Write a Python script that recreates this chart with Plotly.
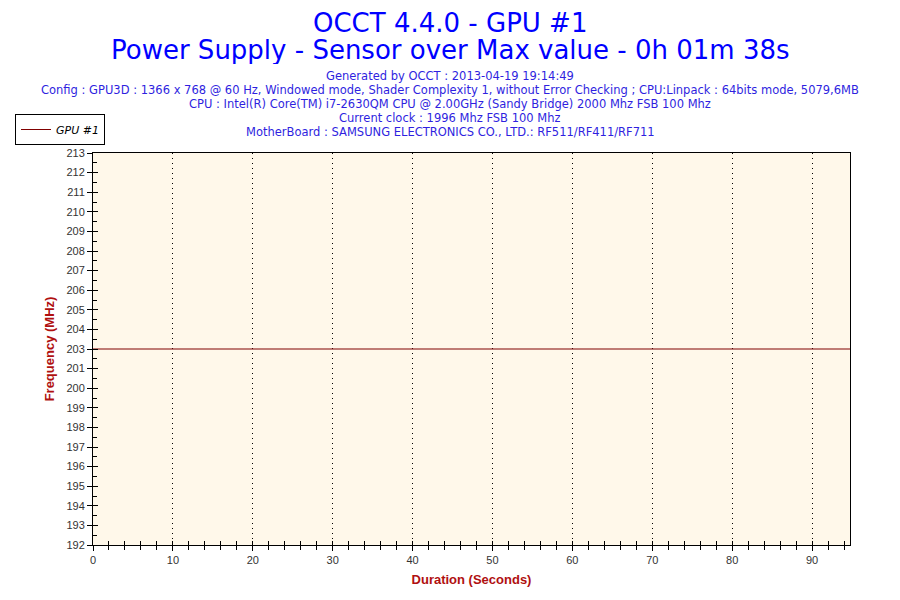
import plotly.graph_objects as go

# data
durations = [0, 98]
frequency = [202.5, 202.5]

y_min, y_max = 192, 213
y_tick_labels = ["192", "193", "194", "195", "196", "197", "198", "199", "200", "201",
                 "203", "204", "205", "206", "207", "208", "209", "210", "211", "212", "213"]
x_max = 94.75

title_lines = [
    "OCCT 4.4.0 - GPU #1",
    "Power Supply - Sensor over Max value - 0h 01m 38s",
]
info_lines = [
    "Generated by OCCT : 2013-04-19 19:14:49",
    "Config : GPU3D : 1366 x 768 @ 60 Hz, Windowed mode, Shader Complexity 1, without Error Checking ; CPU:Linpack : 64bits mode, 5079,6MB",
    "CPU : Intel(R) Core(TM) i7-2630QM CPU @ 2.00GHz (Sandy Bridge) 2000 Mhz FSB 100 Mhz",
    "Current clock : 1996 Mhz FSB 100 Mhz",
    "MotherBoard : SAMSUNG ELECTRONICS CO., LTD.: RF511/RF411/RF711",
]

# 21 labels spread evenly over the range (OCCT rounds them)
n = len(y_tick_labels) - 1
y_tick_vals = [y_min + i * (y_max - y_min) / n for i in range(n + 1)]
y_minor_vals = [(a + b) / 2 for a, b in zip(y_tick_vals[:-1], y_tick_vals[1:])]

# plot box in page pixels: 93..850 x 153..545
def px_x(X):
    return (X - 93) / 757

def px_y(Y):
    return (545 - Y) / 392

tick_font = dict(family="Liberation Sans Narrow, Arial Narrow, Liberation Sans, Arial", size=11, color="#333333")
axis_title_font = dict(family="Liberation Sans, Arial", size=13, color="#B01010")

fig = go.Figure()
fig.add_trace(go.Scatter(x=durations, y=frequency, mode="lines", name="GPU #1",
                         line=dict(color="#800000", width=1)))
# invisible trace to activate the overlay axes used for inward ticks
fig.add_trace(go.Scatter(x=durations, y=frequency, mode="lines", xaxis="x2", yaxis="y2",
                         line=dict(width=0), showlegend=False, hoverinfo="skip"))

fig.update_layout(
    width=900, height=600,
    margin=dict(l=85, r=58, t=145, b=63, autoexpand=False),
    paper_bgcolor="white",
    plot_bgcolor="#FFF8EA",
    font=dict(family="DejaVu Sans, Verdana", color="#000000"),
    showlegend=True,
    legend=dict(x=px_x(15), y=px_y(114), xanchor="left", yanchor="top",
                bgcolor="white", bordercolor="black", borderwidth=1,
                font=dict(family="DejaVu Sans, Verdana", size=11, style="italic"),
                itemwidth=30, tracegroupgap=0),
    xaxis=dict(range=[0, x_max], dtick=10, tick0=0, automargin=False,
               showline=True, linecolor="black", linewidth=1, mirror=True,
               ticks="outside", ticklen=5, tickcolor="black",
               minor=dict(dtick=2, ticks="outside", ticklen=4, tickcolor="black"),
               showgrid=True, gridcolor="black", griddash="1px,4px", gridwidth=1,
               zeroline=False, tickfont=tick_font,
               title=dict(text="<b>Duration (Seconds)</b>", font=axis_title_font, standoff=9)),
    yaxis=dict(range=[y_min, y_max], tickmode="array", tickvals=y_tick_vals, ticktext=y_tick_labels,
               automargin=False,
               showline=True, linecolor="black", linewidth=1, mirror=True,
               ticks="outside", ticklen=5, tickcolor="black",
               minor=dict(tickmode="array", tickvals=y_minor_vals, ticks="", ticklen=0),
               showgrid=False, zeroline=False, tickfont=tick_font,
               title=dict(text="<b>Frequency (MHz)</b>", font=axis_title_font, standoff=8)),
    xaxis2=dict(overlaying="x", anchor="y", range=[0, x_max], dtick=10, tick0=0,
                ticks="inside", ticklen=4, tickcolor="black", showticklabels=False,
                minor=dict(dtick=2, ticks="inside", ticklen=4, tickcolor="black"),
                showgrid=False, zeroline=False, showline=False, automargin=False),
    yaxis2=dict(overlaying="y", anchor="x", range=[y_min, y_max], tickmode="array",
                tickvals=y_tick_vals, ticks="inside", ticklen=5, tickcolor="black",
                showticklabels=False,
                minor=dict(tickmode="array", tickvals=y_minor_vals, ticks="inside",
                           ticklen=4, tickcolor="black"),
                showgrid=False, zeroline=False, showline=False, automargin=False),
)

# title block
fig.add_annotation(text=title_lines[0], xref="paper", yref="paper", x=px_x(450), y=px_y(7),
                   xanchor="center", yanchor="top", showarrow=False, height=28,
                   font=dict(family="DejaVu Sans, Verdana", size=26, color="#0000FF"))
fig.add_annotation(text=title_lines[1], xref="paper", yref="paper", x=px_x(450), y=px_y(50),
                   xanchor="center", yanchor="middle", showarrow=False, height=28,
                   font=dict(family="DejaVu Sans, Verdana", size=26, color="#0000FF"))
for i, text in enumerate(info_lines):
    fig.add_annotation(text=text, xref="paper", yref="paper", x=px_x(450), y=px_y(76 + 14 * i),
                       xanchor="center", yanchor="middle", showarrow=False, height=14,
                       font=dict(family="DejaVu Sans, Verdana", size=11.5, color="#2F1FE0"))

fig.write_html("out.html")
